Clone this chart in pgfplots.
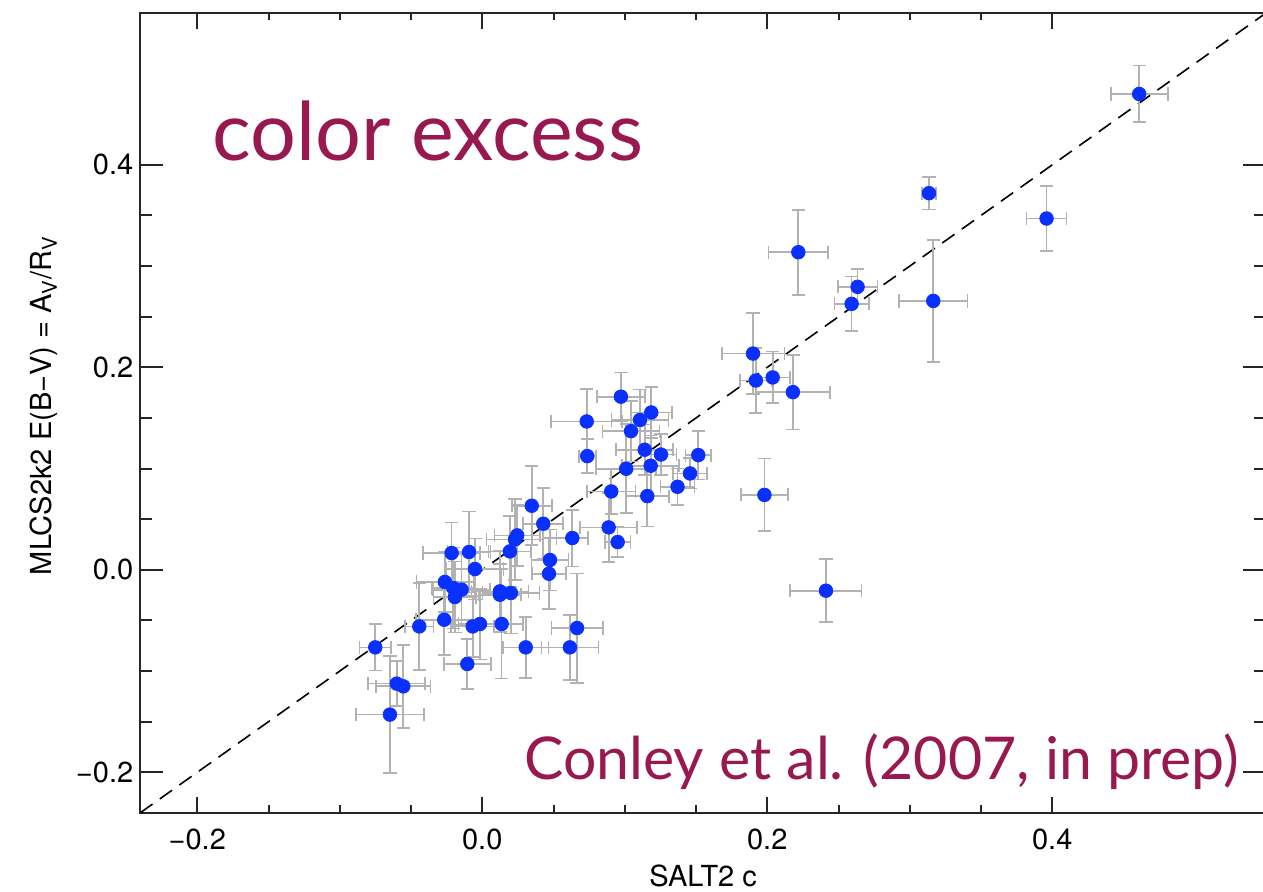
\documentclass[border=0pt]{standalone}
\usepackage{fontspec}
\setmainfont{TeX Gyre Heros}
\newfontfamily\gill{Lato}
\usepackage{pgfplots}
\pgfplotsset{compat=1.18}
\usepackage{pgfplotstable}
\definecolor{dotblue}{RGB}{10,48,255}
\definecolor{annot}{RGB}{152,24,80}
\definecolor{ebar}{RGB}{178,178,178}

\pgfplotstableread{
x y ex ey
0.461 0.470 0.020 0.028
0.3135 0.372 0.005 0.016
0.396 0.347 0.014 0.032
0.3165 0.2656 0.024 0.060
0.2218 0.3137 0.021 0.042
0.2634 0.2795 0.014 0.0175
0.2592 0.2627 0.012 0.027
0.190 0.2136 0.022 0.040
0.192 0.187 0.011 0.032
0.2038 0.190 0.012 0.0255
0.218 0.1755 0.026 0.037
0.198 0.074 0.0166 0.036
0.2412 -0.0206 0.025 0.031
0.0973 0.171 0.017 0.024
0.0733 0.1465 0.025 0.032
0.1186 0.1554 0.0146 0.025
0.1107 0.148 0.02 0.03
0.1044 0.137 0.02 0.03
0.0737 0.1123 0.006 0.017
0.114 0.1186 0.02 0.025
0.1254 0.1139 0.011 0.02
0.1516 0.1133 0.009 0.024
0.1182 0.1028 0.02 0.03
0.101 0.0998 0.021 0.044
0.1458 0.0952 0.012 0.015
0.137 0.082 0.012 0.018
0.0905 0.0774 0.017 0.022
0.1158 0.0728 0.015 0.03
0.0887 0.0419 0.02 0.034
0.095 0.0274 0.009 0.015
0.0632 0.0314 0.011 0.028
0.0347 0.0633 0.014 0.039
0.0428 0.0455 0.014 0.035
0.0245 0.034 0.016 0.03
0.023 0.030 0.02 0.04
0.0194 0.0182 0.015 0.035
0.0475 0.0097 0.013 0.03
0.0468 -0.0039 0.012 0.035
-0.0215 0.0166 0.02 0.03
-0.0093 0.0176 0.015 0.04
-0.0051 0.0008 0.02 0.03
-0.0262 -0.012 0.02 0.03
-0.0203 -0.018 0.015 0.04
-0.0145 -0.0196 0.02 0.035
-0.0192 -0.0269 0.015 0.035
0.0124 -0.0213 0.02 0.04
0.0124 -0.0246 0.015 0.03
0.0201 -0.0229 0.02 0.04
-0.0442 -0.0559 0.010 0.043
-0.0267 -0.0493 0.02 0.035
-0.0067 -0.0559 0.015 0.03
-0.0016 -0.0535 0.015 0.035
0.0136 -0.0535 0.015 0.054
0.0305 -0.0766 0.016 0.030
0.0615 -0.0766 0.02 0.032
0.0665 -0.0575 0.018 0.054
-0.0105 -0.093 0.0165 0.025
-0.0751 -0.0766 0.011 0.023
-0.060 -0.1124 0.02 0.022
-0.0554 -0.1151 0.019 0.041
-0.0648 -0.143 0.024 0.058
}\data

\pgfplotstableread{
x y
-0.24 -0.24
0.55 0.55
}\oneone

\begin{document}
\begin{tikzpicture}
\begin{axis}[
  scale only axis, width=563pt, height=400pt,
  xmin=-0.24, xmax=0.55, ymin=-0.24, ymax=0.55,
  xtick={-0.2,0,0.2,0.4}, xticklabels={−0.2,0.0,0.2,0.4},
  ytick={-0.2,0,0.2,0.4}, yticklabels={−0.2,0.0,0.2,0.4},
  minor tick num=3,
  tick align=inside,
  axis line style={line width=1pt, black!85},
  tick style={line width=1pt, black!85},
  major tick length=11.3pt, minor tick length=5.8pt,
  xtick style={/pgfplots/major tick length=8pt, /pgfplots/minor tick length=3.7pt},
  font=\fontsize{14.5}{17}\selectfont,
  xticklabel style={yshift=-4.4pt},
  xlabel={SALT2 c},
  xlabel style={at={(axis description cs:0.5,0)}, anchor=base, yshift=-37pt},
  ylabel={MLCS2k2 E(B−V) = A\textsubscript{V}/R\textsubscript{V}},
  ylabel style={at={(axis description cs:-0.0785,0.509)}, anchor=base},
  clip=true,
]
\addplot[black, line width=0.8pt, dash pattern=on 7.5pt off 4.5pt, forget plot] table {\oneone};
\addplot[forget plot, only marks, mark=*, mark options={draw=none, fill=none},
  error bars/.cd, x dir=both, x explicit, y dir=both, y explicit,
  error mark=-,
  error bar style={line width=0.85pt, draw=ebar},
  error mark options={rotate=90, line width=0.85pt, draw=ebar, fill=none, mark size=3.3pt}]
  table[x=x, y=y, x error=ex, y error=ey] {\data};
\addplot[only marks, mark=*, mark size=3.4pt, mark options={fill=dotblue, draw=dotblue}]
  table[x=x, y=y] {\data};
\node[anchor=base west, inner sep=0, text=annot, font=\gill\fontsize{40.5}{48}\selectfont] at (axis cs:-0.1897,0.4038) {color excess};
\node[anchor=base east, inner sep=0, text=annot, font=\gill\fontsize{29.5}{36}\selectfont] at (axis cs:0.5312,-0.2072) {Conley et al. (2007, in prep)};
\coordinate (sw) at (rel axis cs:0,0);
\coordinate (ne) at (rel axis cs:1,1);
\end{axis}
\pgfresetboundingbox
\path ([xshift=-70.15pt,yshift=-39.4pt]sw) rectangle ([xshift=-1.5pt,yshift=6.5pt]ne);
\end{tikzpicture}
\end{document}
